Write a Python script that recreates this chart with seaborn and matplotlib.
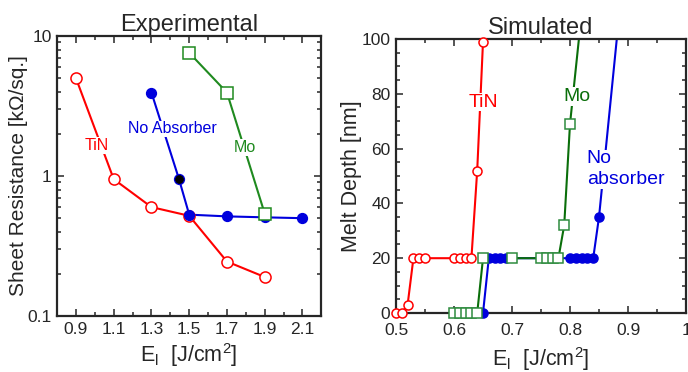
import numpy as np
import pandas as pd
import matplotlib
matplotlib.use("Agg")
import matplotlib.pyplot as plt
from matplotlib.ticker import MultipleLocator, FuncFormatter, LogLocator, NullFormatter
import seaborn as sns

# ---------------- data: Experimental (left) ----------------
exp_tin_x = [0.9, 1.1, 1.3, 1.5, 1.7, 1.9]
exp_tin_y = [5.0, 0.95, 0.60, 0.52, 0.245, 0.19]
exp_noabs_x = [1.3, 1.445, 1.5, 1.7, 1.9, 2.1]
exp_noabs_y = [3.95, 0.96, 0.53, 0.515, 0.507, 0.50]
exp_black_x = [1.445]
exp_black_y = [0.96]
exp_mo_x = [1.5, 1.7, 1.9]
exp_mo_y = [7.6, 3.95, 0.54]

# ---------------- data: Simulated (right) ----------------
sim_tin_x = [0.50, 0.51, 0.52, 0.53, 0.54, 0.55, 0.60, 0.61, 0.62, 0.63, 0.64, 0.65]
sim_tin_y = [0, 0, 3, 20, 20, 20, 20, 20, 20, 20, 52, 99]
sim_mo_x = [0.60, 0.61, 0.62, 0.63, 0.64, 0.65, 0.70, 0.75, 0.76, 0.77, 0.78, 0.79, 0.80, 0.85]
sim_mo_y = [0, 0, 0, 0, 0, 20, 20, 20, 20, 20, 20, 32, 69, 170]
sim_noabs_x = [0.65, 0.66, 0.67, 0.68, 0.69, 0.80, 0.81, 0.82, 0.83, 0.84, 0.85, 0.90]
sim_noabs_y = [0, 20, 20, 20, 20, 20, 20, 20, 20, 20, 35, 141]

exp_xticks = [0.9, 1.1, 1.3, 1.5, 1.7, 1.9, 2.1]
sim_xticks = [0.5, 0.6, 0.7, 0.8, 0.9, 1.0]

RED = "#ff0000"
BLUE = "#0000dd"
GREEN_L = "#1f8a1f"
GREEN_R = "#0a6e0a"

sns.set_style("ticks")
plt.rcParams["font.family"] = ["Liberation Sans", "DejaVu Sans"]
plt.rcParams["mathtext.default"] = "regular"
plt.rcParams["axes.linewidth"] = 1.6

fig = plt.figure(figsize=(6.88, 3.72), dpi=100)
axL = fig.add_axes([0.083, 0.1505, 0.384, 0.7525])
axR = fig.add_axes([0.5756, 0.1586, 0.4215, 0.7366])


def series(ax, x, y, color, marker, ms, mfc, lw=1.5, ylim=None, mec=None):
    df = pd.DataFrame({"x": x, "y": y})
    sns.lineplot(data=df, x="x", y="y", ax=ax, color=color, lw=lw,
                 estimator=None, sort=False, zorder=2)
    if ylim is not None:
        df = df[(df["y"] >= ylim[0]) & (df["y"] <= ylim[1])]
    sns.lineplot(data=df, x="x", y="y", ax=ax, color=color, lw=0,
                 estimator=None, sort=False, marker=marker, markersize=ms,
                 markerfacecolor=mfc, markeredgecolor=mec or color,
                 markeredgewidth=1.1, clip_on=False, zorder=3)


# ---------------- left panel ----------------
axL.set_yscale("log")
series(axL, exp_tin_x, exp_tin_y, RED, "o", 8, "white")
series(axL, exp_noabs_x, exp_noabs_y, BLUE, "o", 7, BLUE)
series(axL, exp_mo_x, exp_mo_y, GREEN_L, "s", 8, "white")
sns.lineplot(x=exp_black_x, y=exp_black_y, ax=axL, lw=0, marker="o",
             markersize=5.5, color="black", markerfacecolor="black",
             markeredgecolor="black", zorder=4)
axL.set_xlim(0.8, 2.2)
axL.set_ylim(0.1, 10)
axL.set_xticks(exp_xticks)
axL.xaxis.set_minor_locator(MultipleLocator(0.1))
axL.xaxis.set_major_formatter(FuncFormatter(lambda v, p: f"{v:g}"))
axL.yaxis.set_major_locator(LogLocator(base=10))
axL.yaxis.set_minor_locator(LogLocator(base=10, subs=np.arange(2, 10)))
axL.yaxis.set_major_formatter(FuncFormatter(lambda v, p: f"{v:g}"))
axL.yaxis.set_minor_formatter(NullFormatter())
axL.set_title("Experimental", fontsize=17, pad=3)
axL.set_ylabel("Sheet Resistance [kΩ/sq.]", fontsize=15)
axL.set_xlabel(r"E$_\mathregular{l}$  [J/cm$^\mathregular{2}$]", fontsize=15.5)
axL.yaxis.set_label_coords(-0.112, 0.5)
axL.xaxis.set_label_coords(0.5, -0.09)

bb = dict(facecolor="white", edgecolor="none", pad=0.5)
axL.text(1.01, 1.65, "TiN", color=RED, fontsize=11.5,
         ha="center", va="center", bbox=bb, zorder=5)
axL.text(1.41, 2.18, "No Absorber", color=BLUE, fontsize=11.5,
         ha="center", va="center", bbox=bb, zorder=5)
axL.text(1.796, 1.6, "Mo", color=GREEN_L, fontsize=11.5,
         ha="center", va="center", bbox=bb, zorder=5)

# ---------------- right panel ----------------
YL = (0, 100)
series(axR, sim_noabs_x, sim_noabs_y, BLUE, "o", 6.5, BLUE, ylim=YL)
series(axR, sim_mo_x, sim_mo_y, GREEN_R, "s", 7.5, "white", ylim=YL, mec="#2e8b3e")
series(axR, sim_tin_x, sim_tin_y, RED, "o", 6.5, "white", ylim=YL)
axR.set_xlim(0.5, 1.0)
axR.set_ylim(*YL)
axR.set_xticks(sim_xticks)
axR.xaxis.set_minor_locator(MultipleLocator(0.05))
axR.yaxis.set_major_locator(MultipleLocator(20))
axR.yaxis.set_minor_locator(MultipleLocator(5))
axR.xaxis.set_major_formatter(FuncFormatter(lambda v, p: f"{v:g}"))
axR.yaxis.set_major_formatter(FuncFormatter(lambda v, p: f"{v:g}"))
axR.set_title("Simulated", fontsize=17, pad=3)
axR.set_ylabel("Melt Depth [nm]", fontsize=15.5)
axR.set_xlabel(r"E$_\mathregular{l}$  [J/cm$^\mathregular{2}$]", fontsize=15.5)
axR.yaxis.set_label_coords(-0.117, 0.5)
axR.xaxis.set_label_coords(0.5, -0.117)

axR.text(0.65, 77, "TiN", color=RED, fontsize=14, ha="center", va="center",
         bbox=bb, zorder=5)
axR.text(0.812, 79, "Mo", color=GREEN_R, fontsize=14, ha="center", va="center",
         bbox=bb, zorder=5)
axR.text(0.829, 52.4, "No\nabsorber", color=BLUE, fontsize=14, ha="left",
         va="center", linespacing=1.3, bbox=bb, zorder=5)

for ax in (axL, axR):
    ax.tick_params(which="both", direction="in", top=True, right=True,
                   labelsize=12.5, width=1.1, pad=4)
    ax.tick_params(which="major", length=5)
    ax.tick_params(which="minor", length=3)
    for s in ax.spines.values():
        s.set_linewidth(1.6)
axR.tick_params(axis="x", which="both", pad=7)

fig.savefig("out.png", dpi=100)
